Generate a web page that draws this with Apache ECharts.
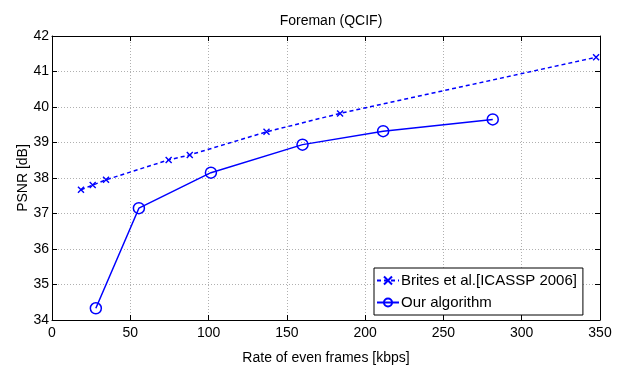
<!DOCTYPE html>
<html>
<head>
<meta charset="utf-8">
<script src="https://cdn.jsdelivr.net/npm/echarts@6/dist/echarts.min.js"></script>
<style>
  html, body { margin: 0; padding: 0; background: #fff; }
  #app { width: 625px; height: 370px; }
</style>
</head>
<body>
<div id="app"></div>
<script>
// rate [kbps], PSNR [dB]
const britesData = [
    [18.5, 37.67], [26, 37.8], [34.5, 37.95], [74.5, 38.51],
    [88, 38.65], [137, 39.3], [184, 39.82], [347.5, 41.4]
];
const ourData = [
    [28, 34.33], [55.5, 37.15], [101.5, 38.15], [160, 38.94],
    [211.5, 39.32], [281.5, 39.65]
];
const seriesNames = ['Brites et al.[ICASSP 2006]', 'Our algorithm'];

const FONT = '"Liberation Sans", Arial, sans-serif';
const BLUE = '#0000ff';
const crossSymbol = 'path://M0,0L10,10M10,0L0,10';

const chart = echarts.init(document.getElementById('app'), null, {renderer: 'canvas'});

const gridLine = {show: true, lineStyle: {color: '#b0b0b0', type: [1, 2], width: 1}};
const axisLine = {show: true, onZero: false, lineStyle: {color: '#000', width: 1}};
const tick = {show: true, inside: true, length: 5, lineStyle: {color: '#000'}};
const label = {color: '#000', fontFamily: FONT, fontSize: 14};

const option = {
    animation: false,
    backgroundColor: '#fff',
    title: {
        text: 'Foreman (QCIF)',
        left: 326,
        textAlign: 'center',
        top: 9,
        textStyle: {fontFamily: FONT, fontSize: 14, fontWeight: 'normal', color: '#000'}
    },
    grid: {left: 52, right: 25, top: 36, bottom: 45, containLabel: false},
    legend: {
        orient: 'vertical',
        left: 374,
        top: 268,
        width: 214,
        padding: [5, 6, 5, 2],
        itemGap: 7,
        itemWidth: 22,
        itemHeight: 10,
        backgroundColor: '#fff',
        borderColor: '#000',
        borderWidth: 1,
        borderRadius: 0,
        textStyle: {fontFamily: FONT, fontSize: 15, color: '#000', padding: [0, 0, 0, -3]},
        data: seriesNames
    },
    xAxis: [{
        type: 'value', min: 0, max: 350, interval: 50,
        name: 'Rate of even frames [kbps]', nameLocation: 'middle', nameGap: 31,
        nameTextStyle: {fontFamily: FONT, fontSize: 14, color: '#000'},
        axisLine, axisTick: tick, splitLine: gridLine,
        axisLabel: {...label, margin: 6}
    }, {
        type: 'value', position: 'top', min: 0, max: 350, interval: 50,
        axisLine, axisTick: tick, splitLine: {show: false}, axisLabel: {show: false}
    }],
    yAxis: [{
        type: 'value', min: 34, max: 42, interval: 1,
        name: 'PSNR [dB]', nameLocation: 'middle', nameGap: 22, nameRotate: 90,
        nameMoveOverlap: false,
        nameTextStyle: {fontFamily: FONT, fontSize: 14, color: '#000'},
        axisLine, axisTick: tick, splitLine: gridLine,
        axisLabel: {...label, margin: 3}
    }, {
        type: 'value', position: 'right', min: 34, max: 42, interval: 1,
        axisLine, axisTick: tick, splitLine: {show: false}, axisLabel: {show: false}
    }],
    series: [{
        name: seriesNames[0],
        type: 'line',
        data: britesData,
        symbol: crossSymbol,
        symbolSize: 6,
        showAllSymbol: true,
        lineStyle: {color: BLUE, width: 1.5, type: [4, 3]},
        itemStyle: {color: 'rgba(0,0,0,0)', borderColor: BLUE, borderWidth: 1.4}
    }, {
        name: seriesNames[1],
        type: 'line',
        data: ourData,
        symbol: 'circle',
        symbolSize: 11,
        showAllSymbol: true,
        lineStyle: {color: BLUE, width: 1.5},
        itemStyle: {color: 'rgba(0,0,0,0)', borderColor: BLUE, borderWidth: 1.5}
    }]
};

chart.setOption(option);
</script>
</body>
</html>
